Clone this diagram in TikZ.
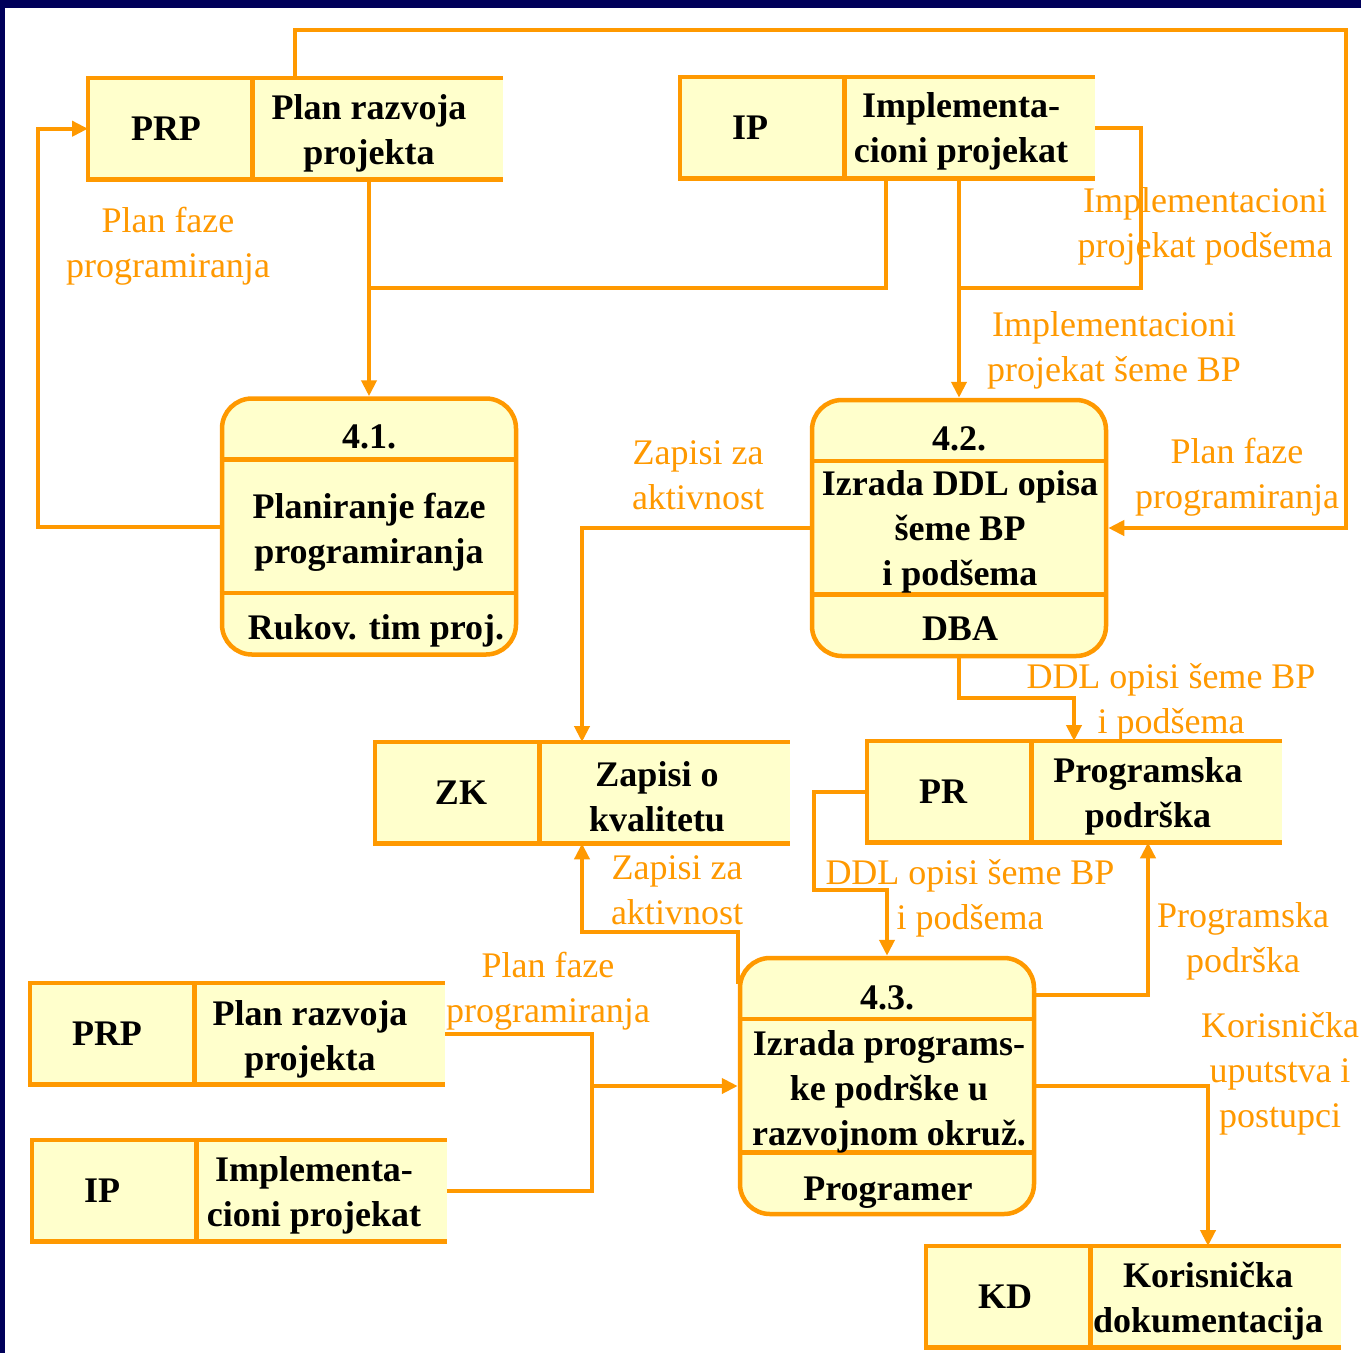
\documentclass[tikz,border=0pt]{standalone}
\usepackage{fontspec}
\setmainfont{Liberation Serif}
\usepackage{tikz}
\usetikzlibrary{arrows.meta,positioning,calc}

\definecolor{dfdorange}{RGB}{255,153,0}
\definecolor{dfdfill}{RGB}{255,255,204}
\definecolor{slidenavy}{RGB}{0,0,90}

\begin{document}
\begin{tikzpicture}[x=1pt,y=-1pt,
    boxline/.style={draw=dfdorange,line width=4.5pt},
    line/.style={draw=dfdorange,line width=4pt},
    flow/.style={line,-{Triangle[length=16pt,width=15pt]}},
    boxtext/.style={font=\fontsize{36}{45}\selectfont\bfseries,align=center,inner sep=0pt},
    flowtext/.style={font=\fontsize{36}{45}\selectfont,text=dfdorange,align=center,inner sep=0pt},
    storeid/.style={fill=dfdfill,minimum width=164,minimum height=101,inner sep=0pt},
    storetxt/.style={fill=dfdfill,minimum width=250,minimum height=101,inner sep=0pt},
    proc/.style={boxline,fill=dfdfill,rounded corners=30pt,minimum width=294,minimum height=256,inner sep=0pt}]

  % Page and slide frame
  \useasboundingbox (0,0) rectangle (1361,1353);
  \fill[white] (0,0) rectangle (1361,1353);
  \fill[slidenavy] (0,0) rectangle (1361,8);
  \fill[slidenavy] (0,0) rectangle (5,1353);

  % Data stores
  \node[storeid,anchor=north west] (prp1-id) at (88,78) {};
  \node[storetxt,right=0pt of prp1-id] (prp1) {};
  \node[storeid,anchor=north west] (ip1-id) at (680,77) {};
  \node[storetxt,right=0pt of ip1-id] (ip1) {};
  \node[storeid,anchor=north west] (zk-id) at (375,742) {};
  \node[storetxt,right=0pt of zk-id] (zk) {};
  \node[storeid,anchor=north west] (pr-id) at (867,741) {};
  \node[storetxt,right=0pt of pr-id] (pr) {};
  \node[storeid,anchor=north west] (prp2-id) at (30,983) {};
  \node[storetxt,right=0pt of prp2-id] (prp2) {};
  \node[storeid,anchor=north west] (ip2-id) at (32,1140) {};
  \node[storetxt,right=0pt of ip2-id] (ip2) {};
  \node[storeid,anchor=north west] (kd-id) at (926,1246) {};
  \node[storetxt,right=0pt of kd-id] (kd) {};

  \foreach \s in {prp1,ip1,zk,pr,prp2,ip2,kd}
    \draw[boxline] (\s.north east) -- (\s-id.north west) -- (\s-id.south west) -- (\s.south east)
      (\s-id.north east) -- (\s-id.south east);

  \node[boxtext] (prp1-key) at (166,128.5) {PRP};
  \node[boxtext] (ip1-key) at (750,127.5) {IP};
  \node[boxtext] (zk-key) at (461,792.5) {ZK};
  \node[boxtext] (pr-key) at (943,791.5) {PR};
  \node[boxtext] (prp2-key) at (107,1033.5) {PRP};
  \node[boxtext] (ip2-key) at (102,1190.5) {IP};
  \node[boxtext] (kd-key) at (1005,1296.5) {KD};

  \node[boxtext] (prp1-txt) at (369,133.5) {Plan razvoja\\projekta};
  \node[boxtext] (ip1-txt) at (961,131.5) {Implementa-\\cioni projekat};
  \node[boxtext] (zk-txt) at (657,796.5) {Zapisi o\\kvalitetu};
  \node[boxtext] (pr-txt) at (1148,796.5) {Programska\\podrška};
  \node[boxtext] (prp2-txt) at (310,1039.5) {Plan razvoja\\projekta};
  \node[boxtext] (ip2-txt) at (314,1195.5) {Implementa-\\cioni projekat};
  \node[boxtext] (kd-txt) at (1208,1301.5) {Korisnička\\dokumentacija};

  % Processes
  \node[proc] (p41) at (369,526.5) {};
  \node[proc] (p42) at (959,528) {};
  \node[proc] (p43) at (887,1086) {};
  \foreach \p in {p41,p42,p43} {
    \draw[boxline] ($(\p.north west)+(0,63)$) -- ($(\p.north east)+(0,63)$);
    \draw[boxline] ($(\p.south west)+(0,-64)$) -- ($(\p.south east)+(0,-64)$);
  }

  \node[boxtext] (p41-num) at (369,437) {4.1.};
  \node[boxtext] (p41-txt) at (369,532) {Planiranje faze\\programiranja};
  \node[boxtext] (p41-who) at (376,631) {Rukov. tim proj.};

  \node[boxtext] (p42-num) at (959,439) {4.2.};
  \node[boxtext] (p42-txt) at (960,532) {Izrada DDL opisa\\šeme BP\\i podšema};
  \node[boxtext] (p42-who) at (960,629) {DBA};

  \node[boxtext] (p43-num) at (887,998) {4.3.};
  \node[boxtext] (p43-txt) at (889,1092) {Izrada programs-\\ke podrške u\\razvojnom okruž.};
  \node[boxtext] (p43-who) at (888,1193) {Programer};

  % Junction points
  \coordinate (j1) at (886,288);
  \coordinate (j2) at (1141,288);
  \coordinate (j3) at (295,30);
  \coordinate (j4) at (1346,30);
  \coordinate (j5) at (582,932);
  \coordinate (j6) at (592,1086);
  \coordinate (j7) at (1148,995);
  \coordinate (j8) at (1208,1086);
  \coordinate (j9) at (1074,698);
  \coordinate (j10) at (814,890);

  % Flows
  \draw[flow] (p41.north |- prp1.south) -- (p41.north);
  \draw[line] (j1 |- ip1.south) -- (j1) -- (j1 -| p41.north);
  \draw[flow] (p41.west) -- ++(-182,0) |- (prp1-id.west);
  \draw[flow] (p42.north |- ip1.south) -- (p42.north);
  \draw[line] (p42.north |- j2) -- (j2) |- (ip1.east);
  \draw[flow] (j3 |- prp1.north) -- (j3) -- (j4) |- (p42.east);
  \draw[flow] (p42.west) -| (j5 |- zk.north);
  \draw[flow] ($(p43.north west)+(0,28)$) |- (j5) -- (j5 |- zk.south);
  \draw[line] (prp2.east) -| (j6);
  \draw[line] (ip2.east) -| (j6);
  \draw[flow] (j6) -- (p43.west);
  \draw[flow] (p43.east |- j7) -- (j7) -- (j7 |- pr.south);
  \draw[flow] (p43.east) -| (j8 |- kd.north);
  \draw[flow] (p42.south) |- (j9) -- (j9 |- pr.north);
  \draw[flow] (pr-id.west) -| (j10) -| (p43.north);

  % Flow labels
  \node[flowtext] (l1) at (168,246) {Plan faze\\programiranja};
  \node[flowtext] (l2) at (1205,226) {Implementacioni\\projekat podšema};
  \node[flowtext] (l3) at (1114,350) {Implementacioni\\projekat šeme BP};
  \node[flowtext] (l4) at (1237,477) {Plan faze\\programiranja};
  \node[flowtext] (l5) at (698,475) {Zapisi za\\aktivnost};
  \node[flowtext] (l6) at (1171,702) {DDL opisi šeme BP\\i podšema};
  \node[flowtext] (l7) at (970,898) {DDL opisi šeme BP\\i podšema};
  \node[flowtext] (l8) at (677,890) {Zapisi za\\aktivnost};
  \node[flowtext] (l9) at (548,991) {Plan faze\\programiranja};
  \node[flowtext] (l10) at (1243,941) {Programska\\podrška};
  \node[flowtext] (l11) at (1280,1074) {Korisnička\\uputstva i\\postupci};

\end{tikzpicture}
\end{document}
